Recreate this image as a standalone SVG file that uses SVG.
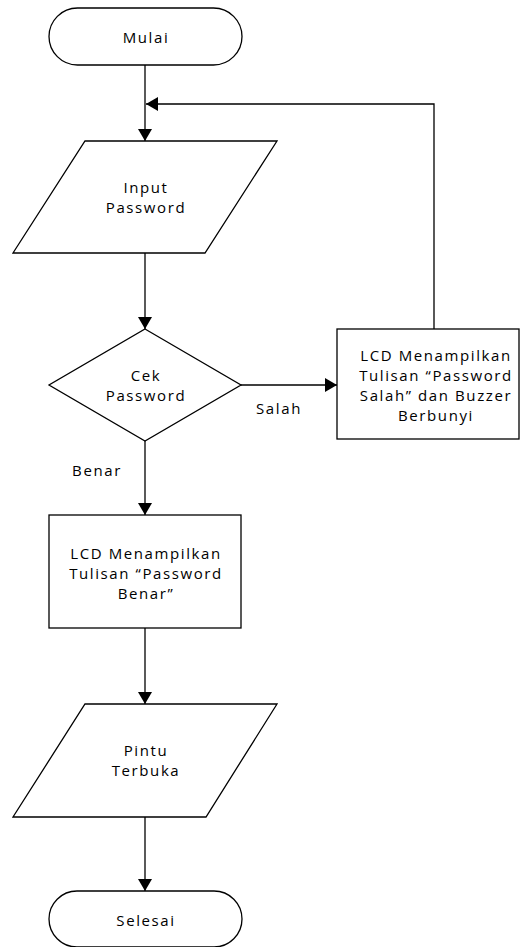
<svg xmlns="http://www.w3.org/2000/svg" width="520" height="947" viewBox="0 0 520 947">
<style>
.s{fill:#fff;stroke:#000;stroke-width:1.3}
.c{fill:none;stroke:#000;stroke-width:1.3}
text{font-family:"Open Sans","Noto Sans","DejaVu Sans",sans-serif;font-size:15px;letter-spacing:1.6px;fill:#000;text-anchor:middle;dominant-baseline:central}
</style>
<defs>
<marker id="a" viewBox="0 0 12 14" refX="12" refY="7" markerWidth="12" markerHeight="14" markerUnits="userSpaceOnUse" orient="auto">
<path d="M0,0 L12,7 L0,14 Z" fill="#000"/>
</marker>
</defs>
<rect width="520" height="947" fill="#fff"/>
<g id="connectors">
<line class="c" x1="145" y1="65" x2="145" y2="141" marker-end="url(#a)"/>
<polyline class="c" points="434,329 434,104 146,104" marker-end="url(#a)"/>
<line class="c" x1="145" y1="253" x2="145" y2="329" marker-end="url(#a)"/>
<line class="c" x1="241" y1="385" x2="337" y2="385" marker-end="url(#a)"/>
<line class="c" x1="145" y1="441" x2="145" y2="515" marker-end="url(#a)"/>
<line class="c" x1="145" y1="628" x2="145" y2="704" marker-end="url(#a)"/>
<line class="c" x1="145" y1="817" x2="145" y2="891" marker-end="url(#a)"/>
<text x="279" y="408">Salah</text>
<text x="97" y="470">Benar</text>
</g>
<g id="mulai">
<rect class="s" x="49" y="8" width="193" height="57" rx="28.5"/>
<text x="146" y="37">Mulai</text>
</g>
<g id="input">
<polygon class="s" points="85,141 277,141 205,253 13,253"/>
<text x="146" y="187">Input</text>
<text x="146" y="207">Password</text>
</g>
<g id="cek">
<polygon class="s" points="145,329 241,385 145,441 49,385"/>
<text x="146" y="375">Cek</text>
<text x="146" y="395">Password</text>
</g>
<g id="salah">
<rect class="s" x="337" y="329" width="182" height="110"/>
<text x="436" y="355">LCD Menampilkan</text>
<text x="436" y="375">Tulisan “Password</text>
<text x="436" y="395">Salah” dan Buzzer</text>
<text x="436" y="415">Berbunyi</text>
</g>
<g id="benar">
<rect class="s" x="49" y="515" width="192" height="113"/>
<text x="146" y="553">LCD Menampilkan</text>
<text x="146" y="573">Tulisan “Password</text>
<text x="146" y="593">Benar”</text>
</g>
<g id="pintu">
<polygon class="s" points="85,704 277,704 206,817 13,817"/>
<text x="146" y="750">Pintu</text>
<text x="146" y="770">Terbuka</text>
</g>
<g id="selesai">
<rect class="s" x="49" y="891" width="193" height="56" rx="28"/>
<text x="146" y="920">Selesai</text>
</g>
</svg>
